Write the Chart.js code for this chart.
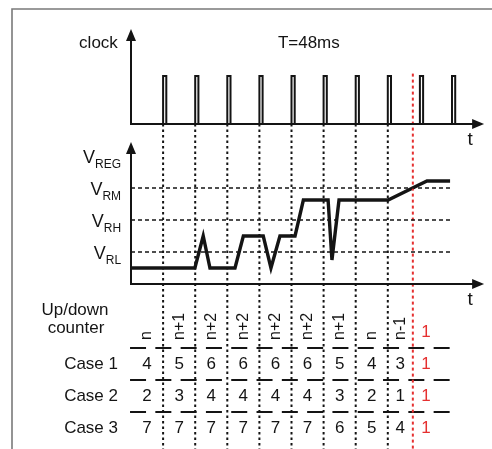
<!DOCTYPE html>
<html><head><meta charset="utf-8">
<script src="https://cdn.jsdelivr.net/npm/chart.js@4"></script>
<style>html,body{margin:0;padding:0;background:#fff;}canvas{display:block;}</style>
</head><body>
<canvas id="c" width="492" height="449"></canvas>
<script>
// ---- data ----
const clockPulses = [1, 2, 3, 4, 5, 6, 7, 8, 9, 10];
const sampleEdges = [1, 2, 3, 4, 5, 6, 7, 8];
const resetTime = 8.78;
const periodText = 'T=48ms';
const vTimes  = [0, 1.99, 2.25, 2.46, 3.24, 3.50, 4.12, 4.36, 4.64, 5.11, 5.37, 6.14, 6.26, 6.48, 8.01, 9.22, 9.94];
const vLevels = [0.5, 0.5, 1.5, 0.5, 0.5, 1.5, 1.5, 0.5, 1.5, 1.5, 2.625, 2.625, 0.75, 2.625, 2.625, 3.22, 3.22];
const refNames  = ['REG', 'RM', 'RH', 'RL'];
const refValues = [4, 3, 2, 1];
const counterLabels = ['n', 'n+1', 'n+2', 'n+2', 'n+2', 'n+2', 'n+1', 'n', 'n-1'];
const resetLabel = '1';
const caseNames = ['Case 1', 'Case 2', 'Case 3'];
const case1 = [4, 5, 6, 6, 6, 6, 5, 4, 3];
const case2 = [2, 3, 4, 4, 4, 4, 3, 2, 1];
const case3 = [7, 7, 7, 7, 7, 7, 6, 5, 4];
const resetValues = [1, 1, 1];

// ---- layout ----
const W = 492, H = 449;
const X0 = 131, PX = 32.1;          // t=0 pixel, pixels per period
const CY0 = 124, CPX = 48;          // clock zero pixel, px per unit
const VY0 = 284, VPX = 32;          // voltage zero pixel, px per unit
const TY0 = 332, TPX = 32;          // table row pixel
const pulseW = 0.1;
const tEnd = 11.0, tDashEnd = 9.94, clockTop = 1.98, voltTop = 4.44;
const RED = '#e53030', INK = '#141414';
const FONT = '"Liberation Sans", Arial, sans-serif';

const clockPts = [{x: 0, y: 0}];
clockPulses.forEach(p => { clockPts.push({x: p, y: 0}, {x: p, y: 1}, {x: p + pulseW, y: 1}, {x: p + pulseW, y: 0}); });
const voltPts = vTimes.map((t, i) => ({x: t, y: vLevels[i]}));

const datasets = [];
// threshold dashed lines
refValues.forEach((v, i) => {
  if (refNames[i] === 'REG') return;
  datasets.push({data: [{x: 0, y: v}, {x: tDashEnd, y: v}], yAxisID: 'yv', borderColor: INK, borderWidth: 1.6, borderDash: [4, 3]});
});
// sample edges (dotted)
const bottomC = (H - CY0) / -CPX;
sampleEdges.forEach(t => {
  datasets.push({data: [{x: t, y: 0}, {x: t, y: bottomC}], yAxisID: 'yc', borderColor: INK, borderWidth: 2, borderDash: [2.5, 3]});
});
datasets.push({data: [{x: resetTime, y: 1.05}, {x: resetTime, y: bottomC}], yAxisID: 'yc', borderColor: RED, borderWidth: 2, borderDash: [3, 3]});
// table dividers
[0.5, 1.5, 2.5].forEach(r => {
  datasets.push({data: [{x: -0.03, y: r}, {x: 10.04, y: r}], yAxisID: 'yt', borderColor: INK, borderWidth: 2, borderDash: [16, 9.3]});
});
// clock
datasets.push({data: clockPts, yAxisID: 'yc', borderColor: INK, borderWidth: 2, borderJoinStyle: 'miter'});
// voltage
datasets.push({data: voltPts, yAxisID: 'yv', borderColor: INK, borderWidth: 3.4, borderJoinStyle: 'miter'});

datasets.forEach(d => { d.showLine = true; d.pointRadius = 0; d.fill = false; d.tension = 0; d.xAxisID = 'x'; });

const deco = {
  id: 'deco',
  afterDatasetsDraw(chart) {
    const ctx = chart.ctx, s = chart.scales;
    const px = t => s.x.getPixelForValue(t);
    const cy = v => s.yc.getPixelForValue(v);
    const vy = v => s.yv.getPixelForValue(v);
    const ty = r => s.yt.getPixelForValue(r);
    ctx.save();
    // frame
    ctx.strokeStyle = '#7a7a7a'; ctx.lineWidth = 1.6;
    ctx.beginPath(); ctx.moveTo(12, H); ctx.lineTo(12, 9); ctx.lineTo(W, 9); ctx.stroke();
    // axes
    ctx.strokeStyle = INK; ctx.fillStyle = INK; ctx.lineWidth = 2;
    const axis = (yfn, top) => {
      const x0 = px(0), y0 = yfn(0), yt = yfn(top), xe = px(tEnd);
      ctx.beginPath(); ctx.moveTo(x0, yt + 8); ctx.lineTo(x0, y0); ctx.lineTo(xe - 8, y0); ctx.stroke();
      ctx.beginPath(); ctx.moveTo(x0, yt); ctx.lineTo(x0 - 5, yt + 12); ctx.lineTo(x0 + 5, yt + 12); ctx.closePath(); ctx.fill();
      ctx.beginPath(); ctx.moveTo(xe, y0); ctx.lineTo(xe - 12, y0 - 5); ctx.lineTo(xe - 12, y0 + 5); ctx.closePath(); ctx.fill();
      ctx.font = '19px ' + FONT; ctx.textAlign = 'center'; ctx.textBaseline = 'middle';
      ctx.fillText('t', xe - 14, y0 + 16);
    };
    axis(cy, clockTop); axis(vy, voltTop);
    // texts
    ctx.font = '17px ' + FONT; ctx.textBaseline = 'middle';
    ctx.textAlign = 'right'; ctx.fillText('clock', px(-0.41), cy(1.69));
    ctx.textAlign = 'center'; ctx.fillText(periodText, px(5.54), cy(1.69));
    // reference labels
    refNames.forEach((n, i) => {
      const y = vy(refValues[i]);
      ctx.font = '12px ' + FONT; const sw = ctx.measureText(n).width;
      const right = px(-0.31);
      ctx.textAlign = 'right'; ctx.textBaseline = 'alphabetic';
      ctx.fillText(n, right, y + 12);
      ctx.font = '18px ' + FONT;
      ctx.fillText('V', right - sw, y + 6.5);
    });
    // counter header
    ctx.font = '17px ' + FONT; ctx.textAlign = 'center'; ctx.textBaseline = 'middle';
    ctx.fillText('Up/down', 75, ty(-0.69));
    ctx.fillText('counter', 76, ty(-0.13));
    const bounds = sampleEdges.slice(); bounds.unshift(0); bounds.push(resetTime);
    const centers = counterLabels.map((_, i) => (bounds[i] + bounds[i + 1]) / 2);
    ctx.font = '16px ' + FONT;
    counterLabels.forEach((lab, i) => {
      ctx.save();
      ctx.translate(px(centers[i]), ty(0.25));
      ctx.rotate(-Math.PI / 2);
      ctx.textAlign = 'left'; ctx.textBaseline = 'middle';
      ctx.fillText(lab, 0, 0);
      ctx.restore();
    });
    ctx.font = '17px ' + FONT; ctx.fillStyle = RED; ctx.textAlign = 'center';
    const resetX = px(9.19);
    ctx.fillText(resetLabel, resetX, ty(0));
    // case rows
    const cases = [case1, case2, case3];
    cases.forEach((vals, r) => {
      const y = ty(r + 1);
      ctx.fillStyle = INK; ctx.textAlign = 'right';
      ctx.fillText(caseNames[r], 118, y);
      ctx.textAlign = 'center';
      vals.forEach((v, i) => ctx.fillText(String(v), px(centers[i]), y));
      ctx.fillStyle = RED;
      ctx.fillText(String(resetValues[r]), resetX, y);
    });
    ctx.restore();
  }
};

new Chart(document.getElementById('c'), {
  type: 'scatter',
  data: {datasets},
  options: {
    responsive: false, animation: false, devicePixelRatio: 1,
    layout: {padding: 0},
    plugins: {legend: {display: false}, tooltip: {enabled: false}},
    scales: {
      x:  {type: 'linear', display: false, min: -X0 / PX, max: (W - X0) / PX},
      yc: {type: 'linear', display: false, min: (CY0 - H) / CPX, max: CY0 / CPX},
      yv: {type: 'linear', display: false, min: (VY0 - H) / VPX, max: VY0 / VPX},
      yt: {type: 'linear', display: false, reverse: true, min: -TY0 / TPX, max: (H - TY0) / TPX}
    }
  },
  plugins: [deco]
});
</script>
</body></html>
